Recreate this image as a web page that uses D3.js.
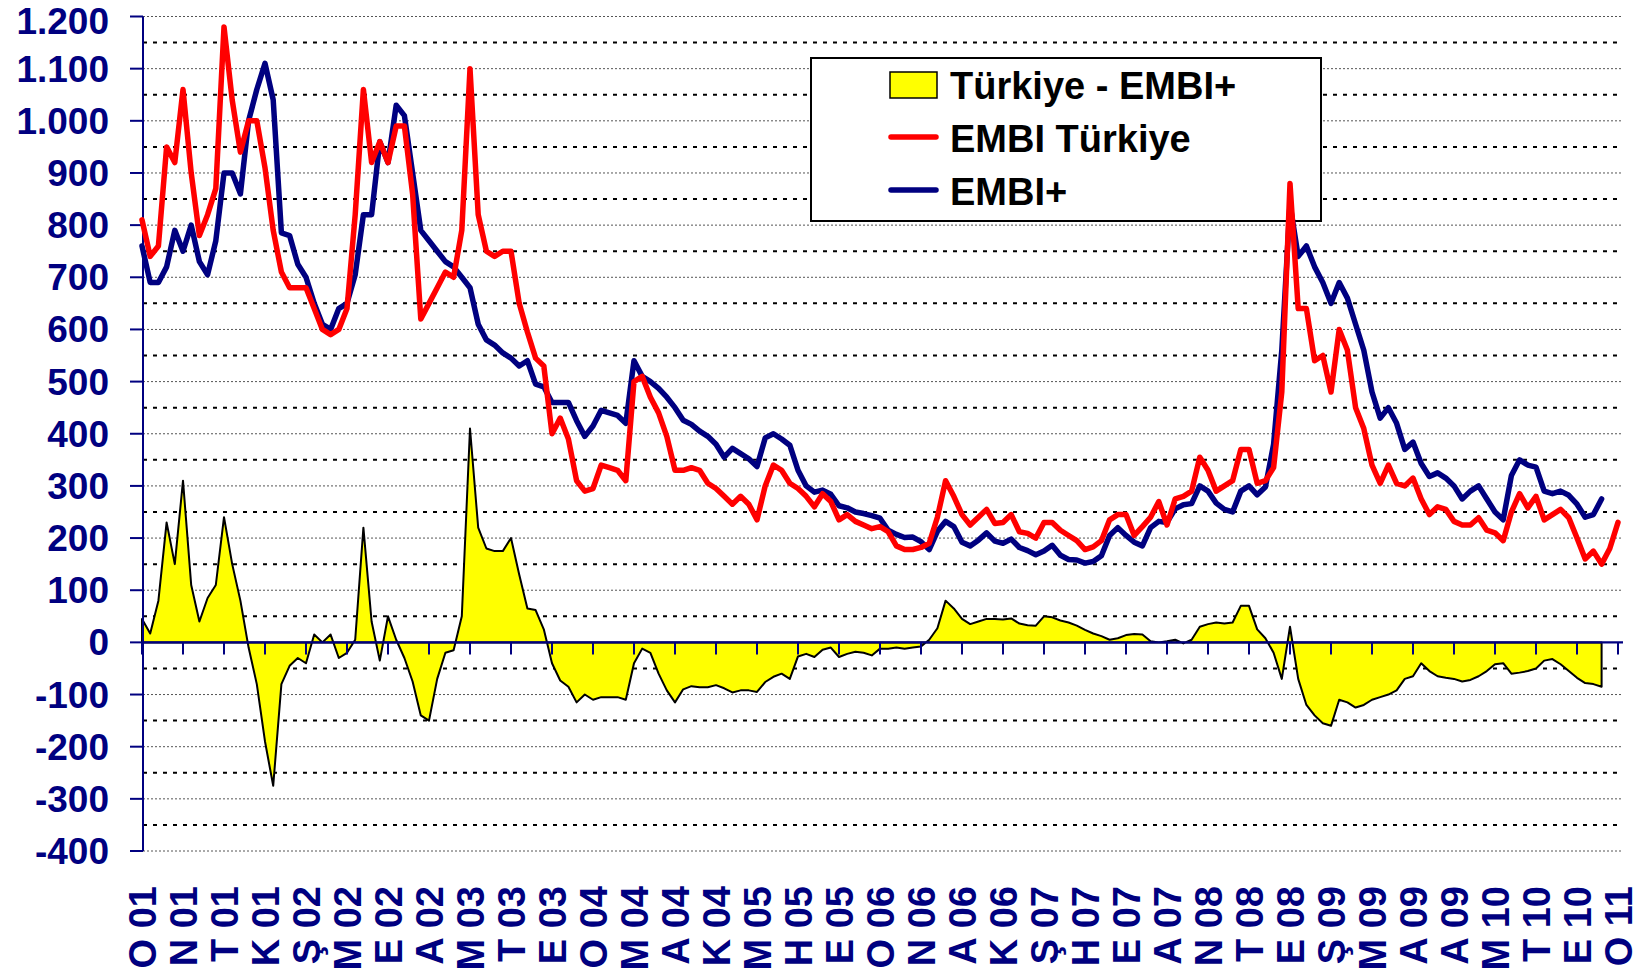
<!DOCTYPE html>
<html><head><meta charset="utf-8">
<script src="https://cdn.jsdelivr.net/npm/d3@7"></script>
<style>body{margin:0;background:#fff}svg{display:block}</style>
</head><body>
<svg id="c" width="1642" height="973"></svg>
<script>
// Category (tick) labels, one per tick interval
const xLabels = ["O 01","N 01","T 01","K 01","Ş 02","M 02","E 02","A 02","M 03","T 03","E 03","O 04","M 04","A 04","K 04","M 05","H 05","E 05","O 06","N 06","A 06","K 06","Ş 07","H 07","E 07","A 07","N 08","T 08","E 08","Ş 09","M 09","A 09","A 09","M 10","T 10","E 10","O 11"];
const yTicks = [-400,-300,-200,-100,0,100,200,300,400,500,600,700,800,900,1000,1100,1200];
// one sample every 0.2 tick interval (≈ 20 days)
const sampleStep = 0.2;

const embiTurkiye = [810,740,760,950,920,1060,900,780,820,870,1180,1040,940,1000,1000,910,790,710,680,680,
680,640,600,590,600,640,820,1060,920,960,920,990,990,860,620,650,680,710,700,790,
1100,820,750,740,750,750,650,595,545,530,400,430,390,310,290,295,340,335,330,310,
500,510,470,440,395,330,330,335,330,305,295,280,265,280,265,235,300,340,330,305,
295,280,260,285,270,235,245,232,225,218,222,212,185,178,178,182,190,240,310,280,
245,225,240,255,228,230,245,212,209,200,230,230,215,205,195,178,183,195,235,245,
245,205,222,240,270,225,275,280,290,355,330,290,300,310,370,370,305,310,335,480,
880,640,640,540,550,480,600,560,450,410,340,305,340,305,300,315,275,245,260,255,
232,225,225,239,215,210,195,250,285,258,280,235,245,255,239,200,160,175,150,180,230];

const embiPlus = [760,690,690,720,790,750,800,730,705,770,900,900,860,1000,1060,1110,1040,785,780,725,
700,650,610,600,640,650,705,820,820,960,920,1030,1010,900,790,770,750,730,720,700,
680,610,580,570,555,545,530,540,495,490,460,460,460,425,395,415,445,440,435,420,
540,510,500,487,470,450,426,418,405,395,380,355,372,362,352,337,392,400,390,378,
330,300,288,292,284,262,258,250,247,243,238,215,207,201,202,193,178,213,232,222,
192,185,196,210,194,190,198,182,176,168,175,186,167,159,158,152,155,166,205,220,
205,192,185,220,232,230,256,264,266,300,290,267,255,250,290,300,283,298,380,560,
840,740,760,720,690,650,690,660,610,560,480,430,450,420,370,384,343,318,325,315,
300,275,290,300,275,250,235,320,350,340,336,290,285,290,282,265,240,245,275];

const spread = [45,17,80,230,150,310,110,40,85,110,240,150,80,-10,-80,-190,-275,-80,-45,-30,
-40,15,0,15,-30,-20,5,220,40,-35,50,5,-30,-75,-140,-150,-70,-20,-15,50,
410,220,180,175,175,200,130,65,62,25,-40,-73,-85,-115,-100,-110,-105,-105,-105,-110,
-40,-12,-20,-60,-92,-115,-90,-84,-86,-86,-82,-88,-96,-92,-92,-95,-76,-66,-60,-70,
-27,-22,-28,-14,-10,-28,-22,-18,-20,-25,-12,-12,-10,-12,-10,-8,5,27,80,65,
45,35,40,45,45,44,46,36,33,32,50,48,42,38,32,24,17,12,5,8,
14,16,15,2,0,2,5,-2,5,30,35,38,36,38,70,70,25,8,-20,-70,
30,-70,-120,-140,-155,-160,-110,-115,-125,-120,-110,-105,-100,-92,-70,-65,-40,-55,-65,-68,
-70,-75,-72,-65,-55,-42,-40,-60,-58,-55,-50,-35,-32,-42,-55,-68,-78,-80,-85];

const seriesNames = ["Türkiye - EMBI+","EMBI Türkiye","EMBI+"];
const NAVY = "#000080", RED = "#FF0000", YELLOW = "#FFFF00";
const FONT = "'Liberation Sans', Arial, sans-serif";

const svg = d3.select("#c");
const x = d3.scaleLinear().domain([0, xLabels.length - 1]).range([142, 1618]);
const y = d3.scaleLinear().domain([-400, 1200]).range([851, 16.5]);
const plotLeft = 143, plotRight = 1623;

const fmt = d3.formatLocale({decimal: ",", thousands: ".", grouping: [3], currency: ["", ""], minus: "-"}).format(",d");

// gridlines
const g = svg.append("g");
yTicks.filter(v => v !== 0).forEach(v => {
  g.append("line").attr("x1", plotLeft).attr("x2", plotRight).attr("y1", y(v)).attr("y2", y(v))
    .attr("stroke", "#555").attr("stroke-width", 1).attr("stroke-dasharray", "2,2");
});
yTicks.slice(0, -1).forEach(v => {
  const m = v + 50;
  g.append("line").attr("x1", plotLeft).attr("x2", plotRight).attr("y1", y(m)).attr("y2", y(m))
    .attr("stroke", "#000").attr("stroke-width", 2).attr("stroke-dasharray", "4,6");
});

// legend box (under the series)
const lg = svg.append("g");
lg.append("rect").attr("x", 811).attr("y", 58).attr("width", 510).attr("height", 163)
  .attr("fill", "#fff").attr("stroke", "#000").attr("stroke-width", 2);

// spread area
const xi = (d, i) => x(i * sampleStep);
const area = d3.area().x(xi).y0(y(0)).y1(d => y(d));
svg.append("path").datum(spread).attr("d", area)
  .attr("fill", YELLOW).attr("stroke", "#000").attr("stroke-width", 2).attr("stroke-linejoin", "round");

// axes
svg.append("line").attr("x1", plotLeft).attr("x2", plotLeft).attr("y1", y(1200)).attr("y2", y(-400))
  .attr("stroke", NAVY).attr("stroke-width", 2);
yTicks.forEach(v => {
  svg.append("line").attr("x1", plotLeft - 13).attr("x2", plotLeft).attr("y1", y(v)).attr("y2", y(v))
    .attr("stroke", NAVY).attr("stroke-width", 2);
  svg.append("text").attr("x", 109).attr("y", Math.max(y(v) + 13, 34)).attr("text-anchor", "end")
    .attr("font-family", FONT).attr("font-weight", "bold").attr("font-size", 37).attr("fill", NAVY)
    .text(fmt(v));
});
svg.append("line").attr("x1", plotLeft).attr("x2", plotRight).attr("y1", y(0)).attr("y2", y(0))
  .attr("stroke", NAVY).attr("stroke-width", 2.2);
xLabels.forEach((lab, i) => {
  svg.append("line").attr("x1", x(i)).attr("x2", x(i)).attr("y1", y(0)).attr("y2", y(0) + 12)
    .attr("stroke", NAVY).attr("stroke-width", 2);
  svg.append("text").attr("transform", `translate(${x(i)},886) rotate(-90)`)
    .attr("text-anchor", "end").attr("dy", "0.36em")
    .attr("font-family", FONT).attr("font-weight", "bold").attr("font-size", 38).attr("fill", NAVY)
    .text(lab);
});

// lines
const line = d3.line().x(xi).y(d => y(d));
svg.append("path").datum(embiPlus).attr("d", line).attr("fill", "none")
  .attr("stroke", NAVY).attr("stroke-width", 5.5).attr("stroke-linejoin", "round").attr("stroke-linecap", "round");
svg.append("path").datum(embiTurkiye).attr("d", line).attr("fill", "none")
  .attr("stroke", RED).attr("stroke-width", 5.5).attr("stroke-linejoin", "round").attr("stroke-linecap", "round");

// legend entries
const lt = (txt, yy) => lg.append("text").attr("x", 950).attr("y", yy)
  .attr("font-family", FONT).attr("font-weight", "bold").attr("font-size", 38).attr("fill", "#000").text(txt);
lg.append("rect").attr("x", 890).attr("y", 72).attr("width", 47).attr("height", 26)
  .attr("fill", YELLOW).attr("stroke", "#000").attr("stroke-width", 1.5);
lt(seriesNames[0], 99);
lg.append("line").attr("x1", 891).attr("x2", 936).attr("y1", 137).attr("y2", 137)
  .attr("stroke", RED).attr("stroke-width", 5.5).attr("stroke-linecap", "round");
lt(seriesNames[1], 152);
lg.append("line").attr("x1", 891).attr("x2", 936).attr("y1", 190).attr("y2", 190)
  .attr("stroke", NAVY).attr("stroke-width", 5.5).attr("stroke-linecap", "round");
lt(seriesNames[2], 205);
</script>
</body></html>
